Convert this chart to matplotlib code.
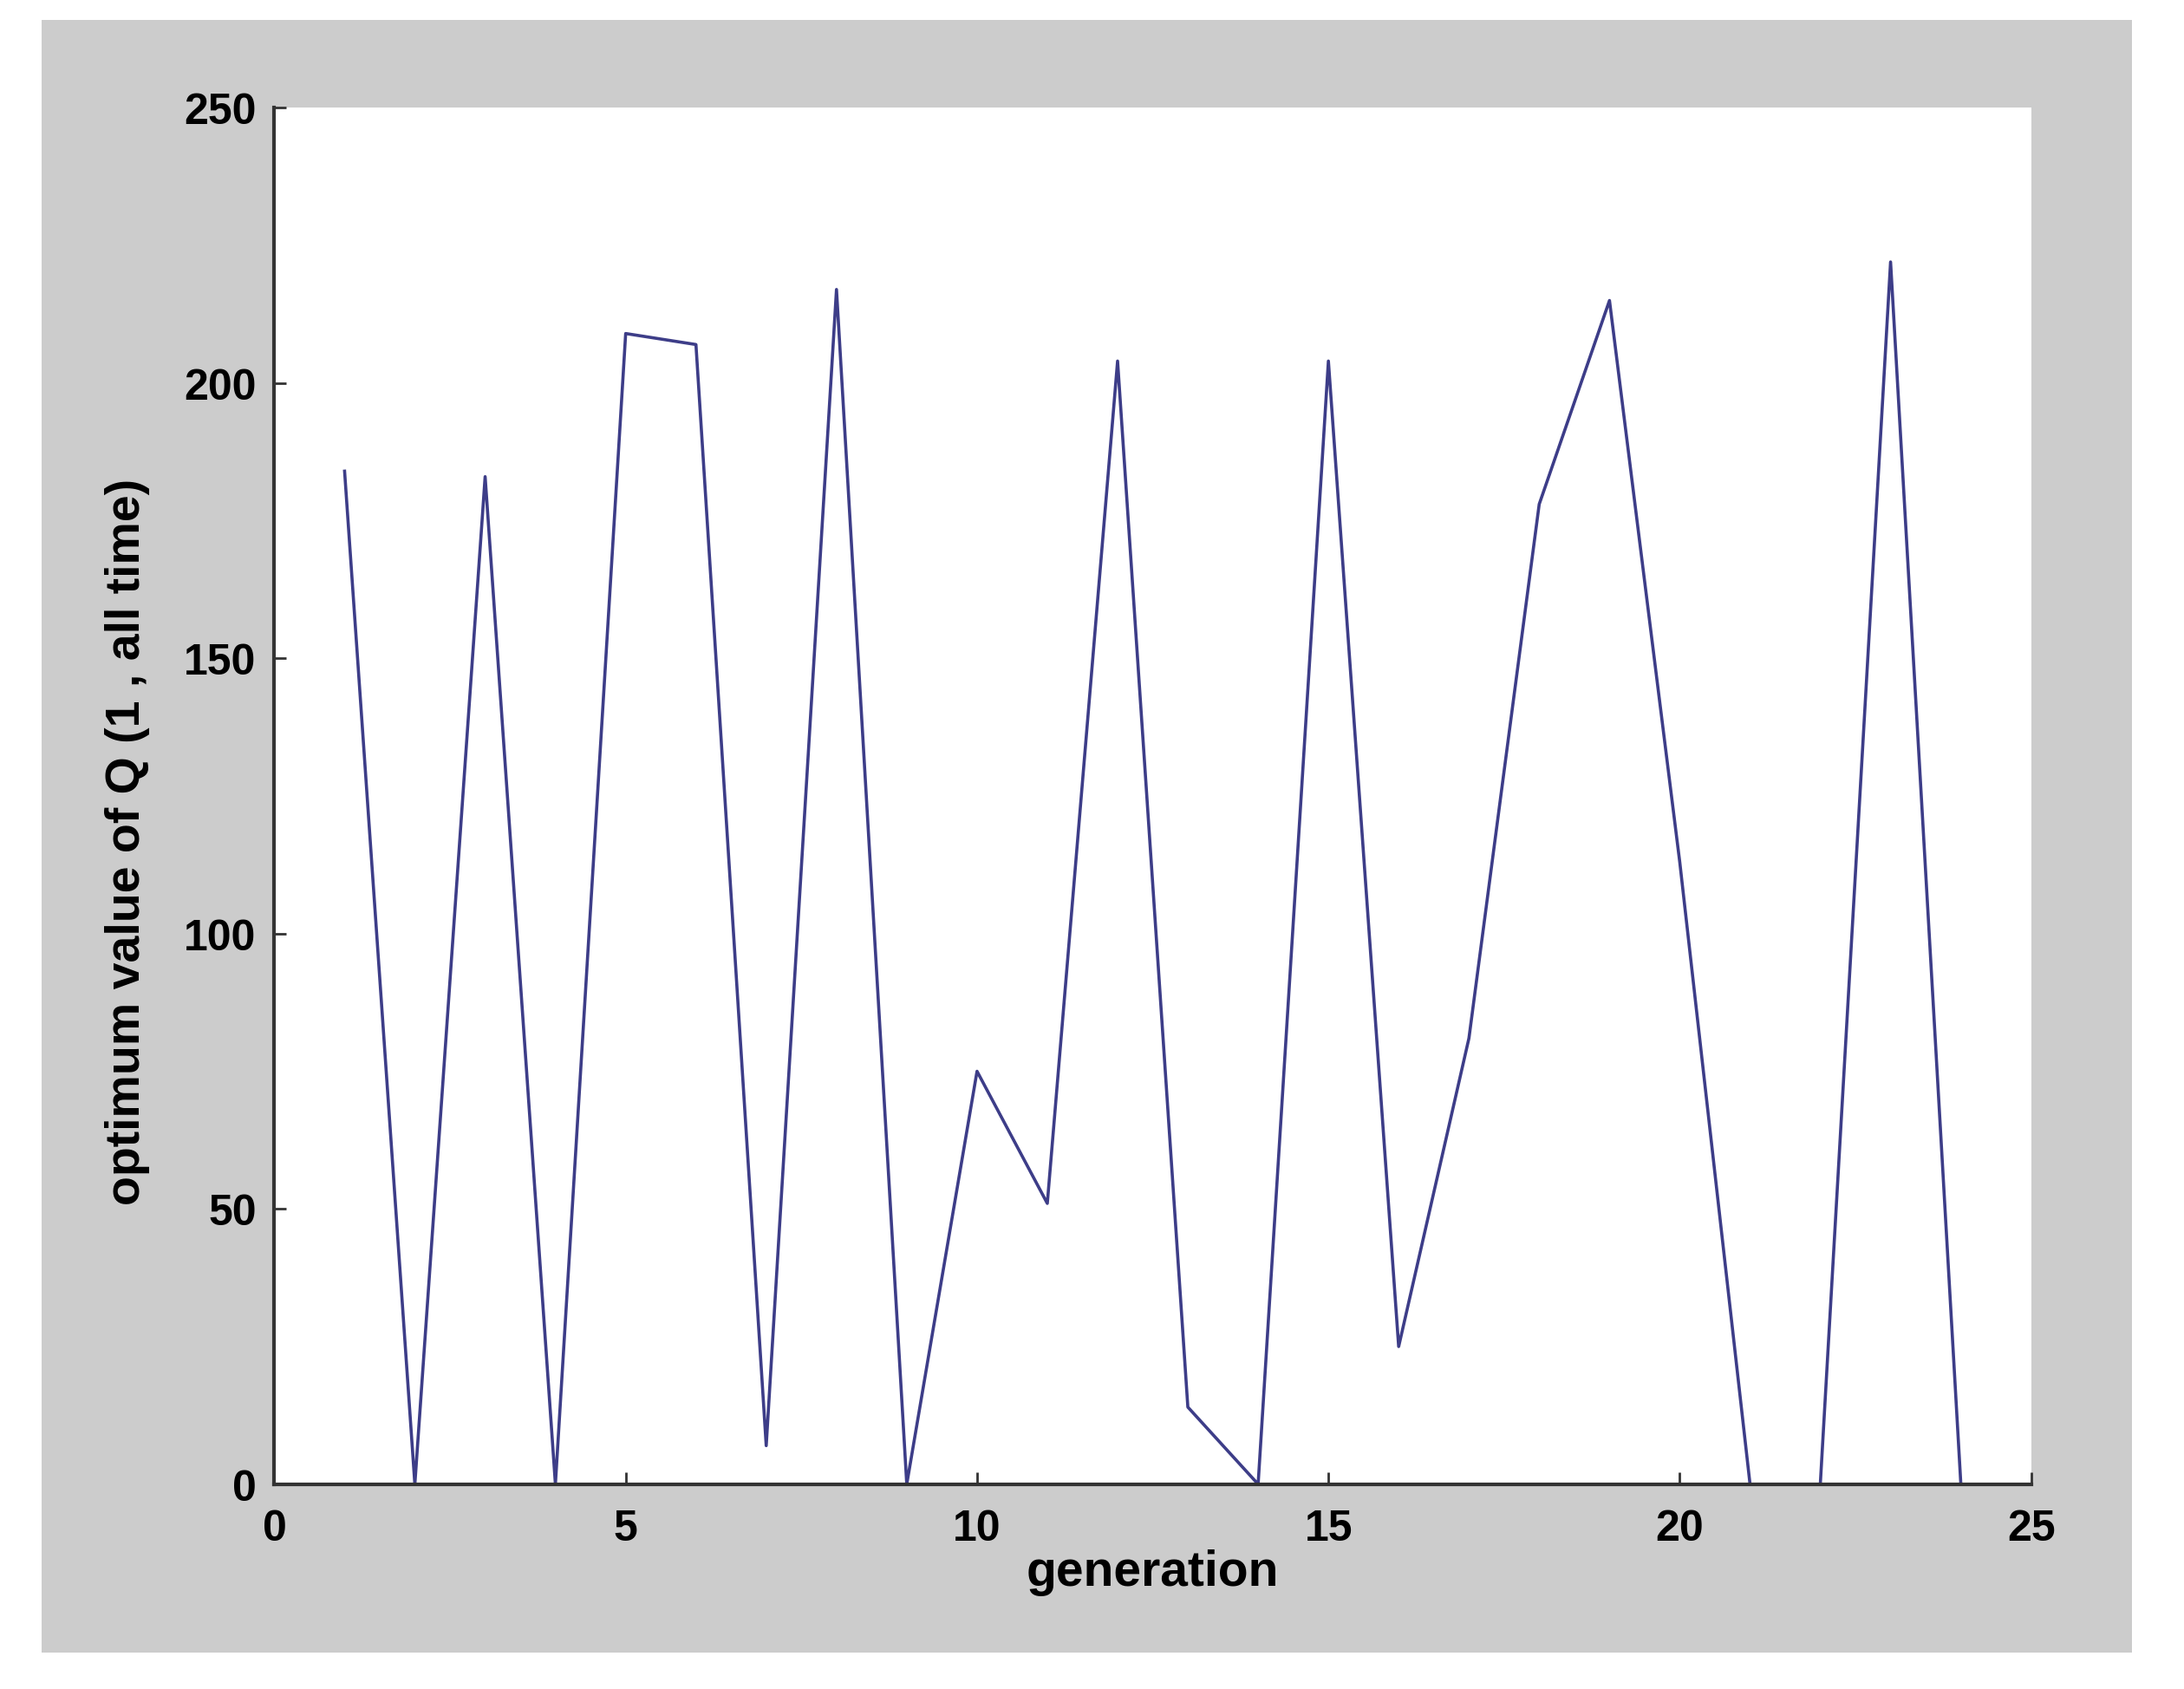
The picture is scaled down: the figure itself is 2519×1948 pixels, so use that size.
import matplotlib
matplotlib.use("Agg")
import matplotlib.pyplot as plt
from matplotlib.patches import Rectangle

plt.rcParams['font.family'] = ['Liberation Sans', 'DejaVu Sans']

generation = list(range(1, 25))
q_values = [184, 0, 183, 0, 209, 207, 7, 217, 0, 75, 51, 204,
            14, 0, 204, 25, 81, 178, 215, 113, 0, 0, 222, 0]
x_ticks = [0, 5, 10, 15, 20, 25]
y_ticks = [0, 50, 100, 150, 200, 250]

fig = plt.figure(figsize=(25.19, 19.49), dpi=100)
fig.patch.set_facecolor('white')
# gray window background like the matlab figure
fig.patches.append(Rectangle((0.019, 0.0214), 0.957, 0.9662, transform=fig.transFigure,
                             facecolor='#cccccc', edgecolor='none', zorder=-5))

ax = fig.add_axes([0.1256, 0.1212, 0.8044, 0.8145])
ax.set_zorder(2)
ax.set_facecolor('white')
ax.plot(generation, q_values, color='#3d3d88', lw=2.6)

ax.set_xlim(0, 25)
ax.set_ylim(0, 250)
ax.set_xticks(x_ticks)
ax.set_yticks(y_ticks)
ax.tick_params(direction='in', length=10, width=2, labelsize=36, colors='#333333',
               labelcolor='black')
ax.tick_params(axis='x', pad=20)
ax.tick_params(axis='y', pad=15)
for lab in ax.get_xticklabels() + ax.get_yticklabels():
    lab.set_fontweight('bold')

for side in ['top', 'right']:
    ax.spines[side].set_visible(False)
for side in ['left', 'bottom']:
    ax.spines[side].set_linewidth(3)
    ax.spines[side].set_color('#333333')

ax.set_xlabel('generation', fontsize=41, fontweight='bold', labelpad=0)
ax.set_ylabel('optimum value of Q (1 , all time)', fontsize=40, fontweight='bold',
              labelpad=28, y=0.467)

fig.savefig('out.png', dpi=100)
